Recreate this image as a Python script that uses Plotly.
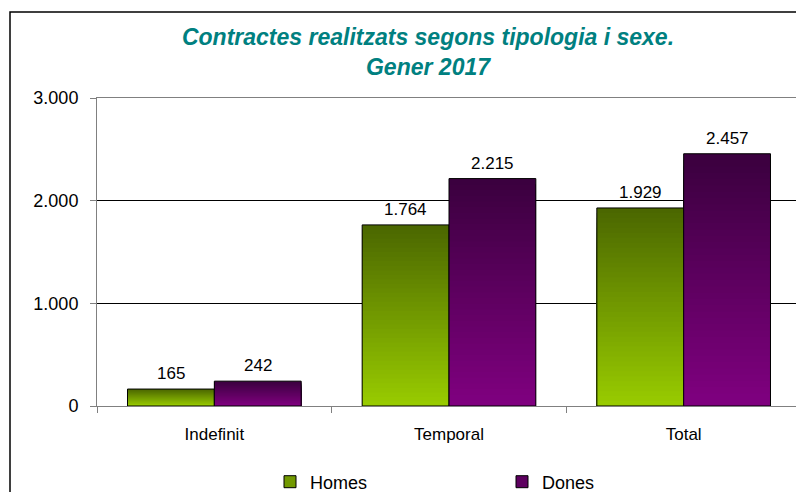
import plotly.graph_objects as go

# Data
categories = ["Indefinit", "Temporal", "Total"]
homes = [165, 1764, 1929]
dones = [242, 2215, 2457]

# gradient end colours (top, bottom) for each series
homes_top, homes_bottom = (74, 102, 0), (153, 204, 0)
dones_top, dones_bottom = (58, 0, 62), (128, 0, 128)

N_LAYERS = 40
FONT = "Liberation Sans, Arial, sans-serif"

# the page puts an 8px body margin round the figure, so the figure itself is 8px smaller
W, H = 796, 484
L, T, R, B = 89, 90, 3, 86
PW, PH = W - L - R, H - T - B


def mix(top, bottom, f):
    # f = 1 -> top colour, f = 0 -> bottom colour
    r, g, b = (round(t * f + bt * (1 - f)) for t, bt in zip(top, bottom))
    return f"rgb({r},{g},{b})"


fig = go.Figure()

# Excel-style vertical gradient: stack of shrinking bars in the same slot
for name, values, top, bottom, grp in [
    ("Homes", homes, homes_top, homes_bottom, "h"),
    ("Dones", dones, dones_top, dones_bottom, "d"),
]:
    for k in range(N_LAYERS):
        frac = (N_LAYERS - k) / N_LAYERS
        fig.add_trace(go.Bar(
            x=categories,
            y=[v * frac for v in values],
            offsetgroup=grp,
            marker=dict(color=mix(top, bottom, (N_LAYERS - k - 0.5) / N_LAYERS), line=dict(width=0)),
            showlegend=False,
            hoverinfo="skip",
        ))
    # black outline on top
    fig.add_trace(go.Bar(
        x=categories,
        y=values,
        offsetgroup=grp,
        marker=dict(color="rgba(0,0,0,0)", line=dict(color="black", width=1)),
        showlegend=False,
        name=name,
    ))
    # legend swatch only
    fig.add_trace(go.Bar(
        x=[None],
        y=[None],
        offsetgroup=grp,
        name=name,
        marker=dict(color=mix(top, bottom, 0.5), line=dict(color="black", width=1)),
    ))

# value labels above the bars
for values, shift in [(homes, -43.5), (dones, 43.5)]:
    for cat, v in zip(categories, values):
        fig.add_annotation(
            x=cat, y=v, text=f"{v:,}".replace(",", "."),
            xshift=shift, yshift=4, yanchor="bottom", showarrow=False,
            font=dict(family=FONT, size=17, color="black"),
        )

# outer chart border
fig.add_shape(
    type="rect", xref="paper", yref="paper",
    x0=(2 - L) / PW, x1=1.2, y0=-0.5, y1=(PH + T - 4) / PH,
    line=dict(color="black", width=1.5), layer="below",
)

fig.update_layout(
    width=W,
    height=H,
    margin=dict(l=L, r=R, t=T, b=B, autoexpand=False),
    paper_bgcolor="white",
    plot_bgcolor="white",
    separators=",.",
    barmode="group",
    bargap=0.26,
    bargroupgap=0,
    font=dict(family=FONT, color="black"),
    title=dict(
        text="<b><i>Contractes realitzats segons tipologia i sexe.<br>Gener 2017</i></b>",
        x=420 / W, xanchor="center",
        y=1 - 37 / H, yanchor="middle",
        font=dict(family=FONT, size=23, color="#008080"),
    ),
    legend=dict(
        orientation="h",
        x=(262 - L) / PW, xanchor="left",
        y=(PH + T - 474) / PH, yanchor="middle",
        entrywidth=187, entrywidthmode="pixels",
        font=dict(family=FONT, size=18, color="black"),
        bgcolor="rgba(0,0,0,0)",
    ),
    showlegend=True,
)

fig.update_xaxes(
    showline=True, linecolor="#808080", linewidth=1, mirror=True,
    ticks="outside", tickson="boundaries", ticklen=6, tickcolor="#808080",
    ticklabelstandoff=13,
    tickfont=dict(family=FONT, size=17, color="black"),
    showgrid=False,
)
fig.update_yaxes(
    range=[0, 3000],
    tickvals=[0, 1000, 2000, 3000],
    tickformat=",.0f",
    showline=True, linecolor="#808080", linewidth=1, mirror=True,
    ticks="outside", ticklen=6, tickcolor="#808080",
    ticklabelstandoff=8,
    tickfont=dict(family=FONT, size=18, color="black"),
    showgrid=True, gridcolor="black", gridwidth=1,
    zeroline=False,
)

fig.write_html("out.html")
